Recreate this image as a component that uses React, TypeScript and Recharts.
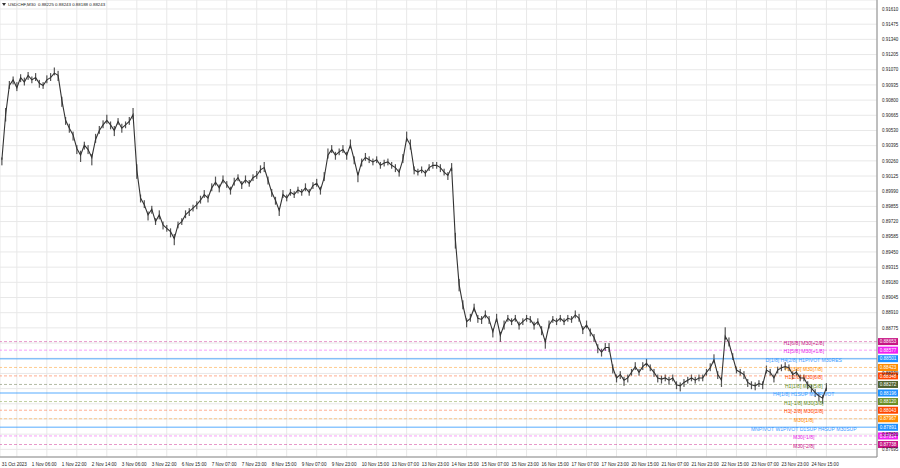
import React from 'react';
import { ComposedChart, Bar, Line, XAxis, YAxis, CartesianGrid, ReferenceLine } from 'recharts';

// 2-hour closes (index 0 = 30 Oct 16:00, last = 24 Nov 15:00)
const closes = [
  0.9027,0.9067,0.9093,0.9098,0.9091,0.9100,0.9096,0.9102,0.9098,0.9100,0.9095,0.9093,0.9098,0.9100,0.9104,0.9102,0.9080,0.9062,0.9055,0.9049,
  0.9037,0.9031,0.9040,0.9036,0.9029,0.9045,0.9053,0.9058,0.9062,0.9058,0.9053,0.9061,0.9055,0.9058,0.9061,0.9067,0.9018,0.8993,0.8987,0.8978,
  0.8983,0.8972,0.8978,0.8969,0.8966,0.8963,0.8957,0.8969,0.8972,0.8978,0.8981,0.8984,0.8987,0.8991,0.8996,0.8993,0.9002,0.9007,0.9002,0.9009,
  0.9005,0.9000,0.9007,0.9011,0.9005,0.9009,0.9006,0.9011,0.9013,0.9018,0.9020,0.9009,0.8998,0.8991,0.8982,0.8996,0.8993,0.8998,0.8996,0.9000,
  0.8998,0.9002,0.8998,0.9004,0.9006,0.9000,0.9011,0.9031,0.9036,0.9031,0.9034,0.9036,0.9031,0.9040,0.9027,0.9013,0.9025,0.9029,0.9027,0.9025,
  0.9027,0.9022,0.9024,0.9025,0.9022,0.9020,0.9016,0.9027,0.9046,0.9040,0.9018,0.9016,0.9018,0.9015,0.9020,0.9022,0.9022,0.9020,0.9016,0.9013,
  0.9020,0.8956,0.8916,0.8898,0.8883,0.8886,0.8895,0.8886,0.8885,0.8889,0.8885,0.8874,0.8886,0.8871,0.8880,0.8886,0.8883,0.8886,0.8880,0.8883,
  0.8886,0.8885,0.8880,0.8883,0.8876,0.8865,0.8880,0.8885,0.8883,0.8886,0.8883,0.8886,0.8885,0.8889,0.8886,0.8876,0.8880,0.8874,0.8869,0.8860,
  0.8856,0.8860,0.8860,0.8842,0.8833,0.8836,0.8831,0.8833,0.8838,0.8843,0.8838,0.8843,0.8846,0.8842,0.8838,0.8833,0.8832,0.8833,0.8831,0.8833,
  0.8827,0.8826,0.8829,0.8831,0.8833,0.8831,0.8833,0.8833,0.8838,0.8842,0.8849,0.8836,0.8831,0.8870,0.8864,0.8852,0.8840,0.8838,0.8836,0.8829,
  0.8827,0.8826,0.8828,0.8827,0.8840,0.8838,0.8833,0.8840,0.8842,0.8843,0.8842,0.8836,0.8838,0.8833,0.8833,0.8827,0.8824,0.8820,0.8817,0.8815,0.88243,
];

// excursion above / below each close, in pips
const upPips = [
  2,6,4,3,5,3,4,3,3,4,3,3,4,4,5,4,3,3,4,3,
  3,4,3,4,3,5,4,4,5,3,4,3,4,3,4,6,5,3,4,3,
  3,3,4,3,3,3,4,3,3,4,3,3,3,4,4,3,4,5,3,4,
  3,3,4,3,3,4,3,3,4,4,5,3,3,3,2,4,3,3,3,3,
  3,4,3,3,4,3,5,6,4,3,3,4,3,5,3,3,3,4,3,3,
  3,3,3,3,3,3,3,5,6,5,3,3,3,3,3,3,3,3,3,3,
  4,6,5,4,3,4,4,3,3,4,3,3,4,3,4,3,3,3,3,3,
  3,3,3,3,3,3,4,3,3,3,3,3,3,4,4,3,4,3,3,3,
  3,4,4,3,3,3,3,3,3,4,3,4,4,3,3,3,3,3,3,3,
  3,3,3,3,3,3,3,3,3,4,5,3,3,8,5,3,3,3,3,3,
  3,3,3,3,4,3,3,3,3,4,3,3,3,3,3,3,3,3,3,3,4,
];
const dnPips = [
  5,6,3,4,3,4,3,4,3,3,4,3,3,3,2,5,6,4,4,5,
  5,6,4,4,7,3,3,3,3,4,5,3,4,3,3,4,8,4,3,5,
  4,3,4,4,3,5,6,3,3,3,4,3,4,3,3,4,3,3,4,3,
  3,4,3,3,4,3,3,3,3,3,4,4,4,4,5,3,3,3,3,3,
  3,3,3,3,3,4,3,3,3,4,3,3,4,3,4,6,4,3,3,3,
  3,3,3,3,3,4,4,3,3,4,4,3,3,3,3,3,3,4,3,4,
  3,8,6,4,5,3,3,4,4,3,4,5,3,6,4,3,3,3,4,3,
  3,3,4,3,5,6,3,3,3,3,3,3,3,3,3,4,3,4,4,5,
  4,3,4,5,4,4,5,4,3,3,3,3,3,3,4,4,4,3,4,3,
  4,5,4,3,3,3,3,3,3,3,3,4,6,3,3,3,3,3,4,4,
  4,4,3,4,3,3,4,3,3,3,3,4,3,3,3,4,4,4,5,5,3,
];

const timeLabels = [
  '31 Oct 2023','1 Nov 06:00','1 Nov 22:00','2 Nov 14:00','3 Nov 06:00','3 Nov 22:00','6 Nov 15:00',
  '7 Nov 07:00','7 Nov 23:00','8 Nov 15:00','9 Nov 07:00','9 Nov 23:00','10 Nov 15:00','13 Nov 07:00',
  '13 Nov 23:00','14 Nov 15:00','15 Nov 07:00','15 Nov 23:00','16 Nov 15:00','17 Nov 07:00','17 Nov 23:00',
  '20 Nov 15:00','21 Nov 07:00','21 Nov 23:00','22 Nov 15:00','23 Nov 07:00','23 Nov 23:00','24 Nov 15:00',
];
const timeTickIndex = [4,12,20,28,36,44,52,60,68,76,84,92,100,108,116,124,132,140,148,156,164,172,180,188,196,204,212,220];

const priceTicks = [
  0.91610,0.91475,0.91340,0.91205,0.91070,0.90935,0.90800,0.90665,0.90530,0.90395,
  0.90260,0.90125,0.89990,0.89855,0.89720,0.89585,0.89450,0.89315,0.89180,0.89045,
  0.88910,0.88775,0.88640,0.88505,0.88370,0.88235,0.88100,0.87965,0.87830,0.87695,
];
// tick labels fully covered by the level boxes in the reference
const coveredPriceTicks = [0.88640,0.88505,0.88235,0.88100,0.87965];

const levelPrices = [0.88653,0.88577,0.88501,0.88423,0.88348,0.88272,0.88196,0.88120,0.88043,0.87967,0.87891,0.87814,0.87738];
const levelTexts = [
  'H1[6/8] M30[+2/8]','H1[5/8] M30[+1/8]','D[1/8] H4[2/8] H1PIVOT M30RES','H1[3/8] M30[7/8]',
  'H1[2/8] M30[6/8]','H1[1/8] M30[5/8]','H4[1/8] H1SUP M30PIVOT','H1[-1/8] M30[3/8]',
  'H1[-2/8] M30[2/8]','M30[1/8]','MNPIVOT W1PIVOT D1SUP H4SUP M30SUP','M30[-1/8]','M30[-2/8]',
];
const titleText = 'USDCHF,M30  0.88225 0.88243 0.88188 0.88243';

// styles
const levelColors = ['#c71585','#f020f0','#1e90ff','#ff8c00','#ff4500','#4f6130','#1e90ff','#6b8e23','#ff4500','#ff8c00','#1e90ff','#f020f0','#c71585'];
const levelTextColors = ['#c71585','#e628e6','#3d9bff','#ff8c00','#ff4500','#6b8e23','#3d9bff','#6b8e23','#ff4500','#ff8c00','#3d9bff','#e628e6','#c71585'];
const levelSolid = [false,false,true,false,false,false,true,false,false,false,true,false,false];
const FONT = '"Liberation Sans", Arial, sans-serif';
const SLOTS = 234;

const tickLabelMap = new Map<number, string>(timeTickIndex.map((ix, k) => [ix, timeLabels[k]]));

const data = Array.from({ length: SLOTS }, (_, i) => {
  if (i >= closes.length) return { i };
  const c = closes[i];
  return { i, close: c, range: [c - dnPips[i] * 0.0001, c + upPips[i] * 0.0001] };
});

const RangeShape = (props: any) => {
  const { x, y, width, height } = props;
  if (x == null || y == null || height == null || isNaN(height)) return null;
  const cx = x + width / 2;
  return <rect x={cx - 0.6} y={y} width={1.2} height={Math.max(height, 1)} fill="#555" />;
};

const XTick = (props: any) => {
  const { x, y, payload } = props;
  const label = tickLabelMap.get(payload.value);
  if (!label) return null;
  return (
    <text x={x - 15} y={y + 7} fontSize={4.6} fill="#222" fontFamily={FONT} textAnchor="start">
      {label}
    </text>
  );
};

const YTick = (props: any) => {
  const { x, y, payload } = props;
  const v = Number(payload.value);
  if (coveredPriceTicks.some((c) => Math.abs(c - v) < 1e-7)) return null;
  return (
    <text x={x + 3} y={y + 1.7} fontSize={4.5} fill="#222" fontFamily={FONT} textAnchor="start">
      {v.toFixed(5)}
    </text>
  );
};

const makeLevelLabel = (k: number) => (props: any) => {
  const vb = props.viewBox || {};
  const x = vb.x ?? 0;
  const y = vb.y ?? 0;
  const w = vb.width ?? 0;
  return (
    <g>
      <text x={x + w * 0.9165} y={y + 3.2} fontSize={5.1} fill={levelTextColors[k]} fontFamily={FONT} textAnchor="middle">
        {levelTexts[k]}
      </text>
      <rect x={x + w + 1} y={y - 3.5} width={20} height={7} fill={levelColors[k]} />
      <text x={x + w + 11} y={y + 1.7} fontSize={4.6} fill="#ffffff" fontFamily={FONT} textAnchor="middle">
        {levelPrices[k].toFixed(5)}
      </text>
    </g>
  );
};

export default function App() {
  return (
    <div style={{ position: 'absolute', left: 0, top: 0, width: 900, height: 468, background: '#fff' }}>
      <ComposedChart width={900} height={468} data={data} margin={{ top: 0, right: 0, bottom: 0, left: 0 }}>
        <CartesianGrid stroke="#e8e8e8" strokeWidth={1} />
        <XAxis
          dataKey="i"
          type="category"
          ticks={timeTickIndex}
          interval={0}
          height={11}
          tick={<XTick />}
          tickLine={false}
          tickSize={0}
          axisLine={{ stroke: '#8a8a8a' }}
        />
        <YAxis
          orientation="right"
          type="number"
          width={23}
          domain={[0.87627, 0.9169]}
          allowDataOverflow
          ticks={priceTicks}
          interval={0}
          tick={<YTick />}
          tickLine={false}
          tickSize={0}
          axisLine={{ stroke: '#8a8a8a' }}
        />
        {levelPrices.map((p, k) => (
          <ReferenceLine
            key={k}
            y={p}
            stroke={levelColors[k]}
            strokeOpacity={levelSolid[k] ? 0.5 : 0.55}
            strokeWidth={levelSolid[k] ? 1.5 : 0.8}
            strokeDasharray={levelSolid[k] ? undefined : '3 2'}
            label={makeLevelLabel(k)}
          />
        ))}
        <Bar dataKey="range" shape={<RangeShape />} isAnimationActive={false} />
        <Line dataKey="close" type="linear" stroke="#333" strokeWidth={1.1} dot={false} isAnimationActive={false} />
      </ComposedChart>
      <svg width={900} height={12} style={{ position: 'absolute', left: 0, top: 0 }}>
        <path d="M2 3 L6 3 L4 6 Z" fill="#333" />
        <text x={8} y={6.3} fontSize={4.4} fill="#222" fontFamily={FONT} xmlSpace="preserve">
          {titleText}
        </text>
      </svg>
    </div>
  );
}
